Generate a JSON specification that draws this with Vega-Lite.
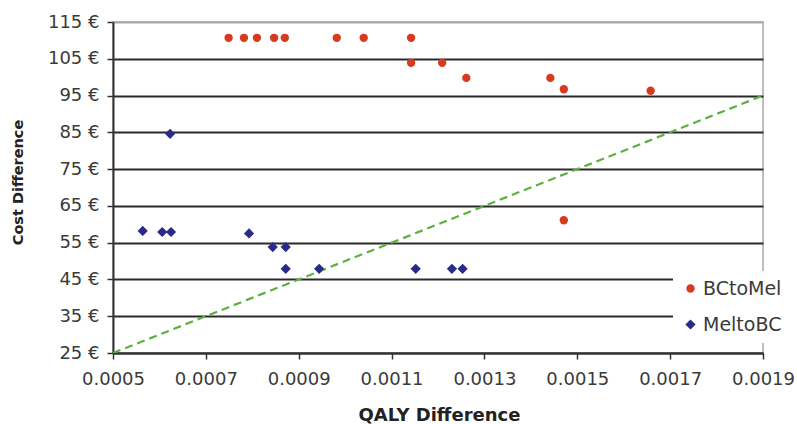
{
  "$schema": "https://vega.github.io/schema/vega-lite/v6.json",
  "width": 650,
  "height": 331,
  "autosize": {"type": "none"},
  "padding": {"left": 113, "top": 22, "right": 34, "bottom": 71},
  "background": "white",
  "config": {
    "view": {"stroke": "#a8a8a8", "strokeWidth": 1.5},
    "font": "DejaVu Sans"
  },
  "datasets": {
    "points": [
      {"qaly": 0.000749, "cost": 110.7, "series": "BCtoMel"},
      {"qaly": 0.000782, "cost": 110.7, "series": "BCtoMel"},
      {"qaly": 0.00081, "cost": 110.7, "series": "BCtoMel"},
      {"qaly": 0.000847, "cost": 110.7, "series": "BCtoMel"},
      {"qaly": 0.00087, "cost": 110.7, "series": "BCtoMel"},
      {"qaly": 0.000982, "cost": 110.7, "series": "BCtoMel"},
      {"qaly": 0.00104, "cost": 110.7, "series": "BCtoMel"},
      {"qaly": 0.001142, "cost": 110.7, "series": "BCtoMel"},
      {"qaly": 0.001142, "cost": 103.9, "series": "BCtoMel"},
      {"qaly": 0.001209, "cost": 103.9, "series": "BCtoMel"},
      {"qaly": 0.001261, "cost": 99.8, "series": "BCtoMel"},
      {"qaly": 0.001442, "cost": 99.8, "series": "BCtoMel"},
      {"qaly": 0.001471, "cost": 96.7, "series": "BCtoMel"},
      {"qaly": 0.001658, "cost": 96.3, "series": "BCtoMel"},
      {"qaly": 0.001471, "cost": 61.1, "series": "BCtoMel"},
      {"qaly": 0.000623, "cost": 84.6, "series": "MeltoBC"},
      {"qaly": 0.000564, "cost": 58.2, "series": "MeltoBC"},
      {"qaly": 0.000606, "cost": 57.9, "series": "MeltoBC"},
      {"qaly": 0.000625, "cost": 57.9, "series": "MeltoBC"},
      {"qaly": 0.000793, "cost": 57.5, "series": "MeltoBC"},
      {"qaly": 0.000844, "cost": 53.8, "series": "MeltoBC"},
      {"qaly": 0.000872, "cost": 53.8, "series": "MeltoBC"},
      {"qaly": 0.000872, "cost": 47.9, "series": "MeltoBC"},
      {"qaly": 0.000944, "cost": 47.9, "series": "MeltoBC"},
      {"qaly": 0.001152, "cost": 47.9, "series": "MeltoBC"},
      {"qaly": 0.00123, "cost": 47.9, "series": "MeltoBC"},
      {"qaly": 0.001253, "cost": 47.9, "series": "MeltoBC"}
    ],
    "threshold": [
      {"qaly": 0.0005, "cost": 25},
      {"qaly": 0.0019, "cost": 95}
    ]
  },
  "layer": [
    {
      "data": {"name": "threshold"},
      "mark": {"type": "line", "color": "#5cb040", "strokeWidth": 2.2, "strokeDash": [8, 5], "clip": true},
      "encoding": {
        "x": {
          "field": "qaly", "type": "quantitative",
          "scale": {"domain": [0.0005, 0.0019], "nice": false, "zero": false},
          "axis": {
            "title": "QALY Difference",
            "values": [0.0005, 0.0007, 0.0009, 0.0011, 0.0013, 0.0015, 0.0017, 0.0019],
            "tickCount": 20,
            "format": ".4f",
            "labelOverlap": false,
            "labelFlush": false,
            "grid": false,
            "domainColor": "#333333",
            "domainWidth": 2,
            "tickColor": "#333333",
            "tickWidth": 1.5,
            "tickSize": 6,
            "labelFont": "DejaVu Sans",
            "labelFontSize": 18,
            "labelColor": "#3a3a3a",
            "labelPadding": 11,
            "titleFont": "DejaVu Sans",
            "titleFontSize": 18,
            "titleFontWeight": "bold",
            "titleColor": "#222222",
            "titleX": 326,
            "titleY": 62,
            "titleBaseline": "middle",
            "titleAlign": "center"
          }
        },
        "y": {
          "field": "cost", "type": "quantitative",
          "scale": {"domain": [25, 115], "nice": false, "zero": false},
          "axis": {
            "title": "Cost Difference",
            "values": [25, 35, 45, 55, 65, 75, 85, 95, 105, 115],
            "tickCount": 20,
            "labelExpr": "datum.value + ' €'",
            "labelOverlap": false,
            "labelFlush": false,
            "grid": true,
            "gridColor": {"condition": {"test": "datum.value == 115", "value": "#a8a8a8"}, "value": "#2a2a2a"},
            "gridWidth": 2,
            "domainColor": "#333333",
            "domainWidth": 2,
            "tickColor": "#333333",
            "tickWidth": 1.5,
            "tickSize": 6,
            "labelFont": "DejaVu Sans",
            "labelFontSize": 18,
            "labelColor": "#3a3a3a",
            "labelPadding": 8,
            "titleFont": "DejaVu Sans",
            "titleFontSize": 14.5,
            "titleFontWeight": "bold",
            "titleColor": "#222222",
            "titleAngle": -90,
            "titleX": -95,
            "titleY": 160,
            "titleBaseline": "middle",
            "titleAlign": "center"
          }
        }
      }
    },
    {
      "data": {"name": "points"},
      "mark": {"type": "point", "filled": true, "opacity": 1},
      "encoding": {
        "x": {"field": "qaly", "type": "quantitative"},
        "y": {"field": "cost", "type": "quantitative"},
        "color": {
          "field": "series", "type": "nominal",
          "scale": {"domain": ["BCtoMel", "MeltoBC"], "range": ["#d83a20", "#2a2a8a"]},
          "legend": {
            "title": null,
            "orient": "none",
            "legendX": 560,
            "legendY": 249,
            "fillColor": "white",
            "padding": 8,
            "rowPadding": 16,
            "labelFont": "DejaVu Sans",
            "labelFontSize": 19,
            "labelColor": "#3a3a3a",
            "labelOffset": 3
          }
        },
        "shape": {
          "field": "series", "type": "nominal",
          "scale": {"domain": ["BCtoMel", "MeltoBC"], "range": ["circle", "diamond"]},
          "legend": {
            "title": null,
            "orient": "none",
            "legendX": 560,
            "legendY": 249,
            "fillColor": "white",
            "padding": 8,
            "rowPadding": 16,
            "labelFont": "DejaVu Sans",
            "labelFontSize": 19,
            "labelColor": "#3a3a3a",
            "labelOffset": 3
          }
        },
        "size": {
          "field": "series", "type": "nominal",
          "scale": {"domain": ["BCtoMel", "MeltoBC"], "range": [70, 105]},
          "legend": {
            "title": null,
            "orient": "none",
            "legendX": 560,
            "legendY": 249,
            "fillColor": "white",
            "padding": 8,
            "rowPadding": 16,
            "labelFont": "DejaVu Sans",
            "labelFontSize": 19,
            "labelColor": "#3a3a3a",
            "labelOffset": 3
          }
        }
      }
    }
  ]
}
